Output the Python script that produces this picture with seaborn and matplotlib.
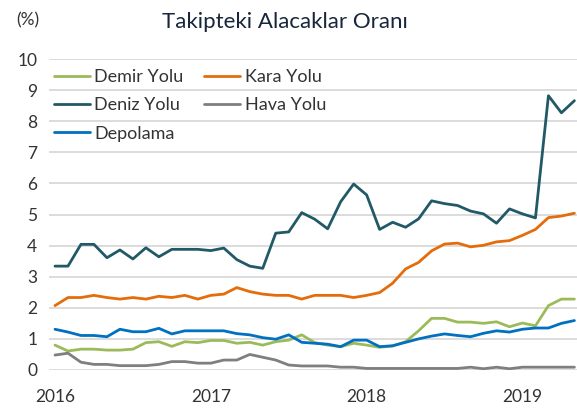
import numpy as np
import pandas as pd
import matplotlib
matplotlib.use("Agg")
import matplotlib.pyplot as plt
import seaborn as sns

# aylik veri, Ocak 2016 - Mayis 2019
months = pd.date_range("2016-01-01", periods=41, freq="MS")

demir_yolu = [0.80, 0.61, 0.67, 0.67, 0.64, 0.64, 0.67, 0.88, 0.91, 0.76, 0.91, 0.88,
              0.95, 0.95, 0.86, 0.89, 0.80, 0.91, 0.96, 1.13, 0.88, 0.80, 0.75, 0.86,
              0.80, 0.73, 0.77, 0.91, 1.26, 1.66, 1.66, 1.54, 1.54, 1.50, 1.55, 1.39,
              1.51, 1.42, 2.07, 2.28, 2.28]
kara_yolu = [2.07, 2.33, 2.33, 2.40, 2.33, 2.28, 2.33, 2.28, 2.37, 2.33, 2.40, 2.28,
             2.40, 2.44, 2.65, 2.52, 2.44, 2.40, 2.40, 2.28, 2.40, 2.40, 2.40, 2.33,
             2.40, 2.49, 2.79, 3.25, 3.46, 3.83, 4.05, 4.08, 3.96, 4.01, 4.12, 4.16,
             4.33, 4.52, 4.90, 4.95, 5.04]
deniz_yolu = [3.34, 3.34, 4.04, 4.04, 3.61, 3.86, 3.57, 3.93, 3.64, 3.88, 3.88, 3.88,
              3.84, 3.92, 3.55, 3.34, 3.27, 4.40, 4.44, 5.06, 4.85, 4.54, 5.41, 5.98,
              5.63, 4.52, 4.75, 4.59, 4.86, 5.44, 5.35, 5.29, 5.11, 5.02, 4.72, 5.18,
              5.02, 4.89, 8.82, 8.27, 8.66]
hava_yolu = [0.48, 0.54, 0.25, 0.18, 0.18, 0.14, 0.14, 0.14, 0.18, 0.27, 0.27, 0.22,
             0.22, 0.32, 0.32, 0.50, 0.41, 0.32, 0.16, 0.13, 0.13, 0.13, 0.09, 0.09,
             0.05, 0.05, 0.05, 0.05, 0.05, 0.05, 0.05, 0.05, 0.09, 0.04, 0.09, 0.04,
             0.09, 0.09, 0.09, 0.09, 0.09]
depolama = [1.31, 1.22, 1.11, 1.11, 1.07, 1.31, 1.23, 1.23, 1.34, 1.16, 1.26, 1.26,
            1.26, 1.26, 1.17, 1.13, 1.04, 0.99, 1.13, 0.89, 0.86, 0.83, 0.75, 0.96,
            0.96, 0.75, 0.78, 0.89, 1.00, 1.09, 1.16, 1.11, 1.07, 1.18, 1.26, 1.22,
            1.31, 1.35, 1.35, 1.50, 1.59]

series_names = ["Demir Yolu", "Kara Yolu", "Deniz Yolu", "Hava Yolu", "Depolama"]
colors = {"Demir Yolu": "#9BBB59", "Kara Yolu": "#E46C0A", "Deniz Yolu": "#215967",
          "Hava Yolu": "#7F7F7F", "Depolama": "#0070C0"}
year_ticks = ["2016", "2017", "2018", "2019"]

df = pd.DataFrame({"idx": np.arange(len(months)),
                   "Demir Yolu": demir_yolu, "Kara Yolu": kara_yolu,
                   "Deniz Yolu": deniz_yolu, "Hava Yolu": hava_yolu,
                   "Depolama": depolama})
long_df = df.melt(id_vars="idx", var_name="seri", value_name="oran")

sns.set_style("white")
plt.rcParams["font.family"] = ["Lato", "DejaVu Sans"]

fig = plt.figure(figsize=(5.77, 4.12), dpi=100)
ax = fig.add_axes([48.5 / 577, 1 - 370 / 412, 528.5 / 577, 311 / 412])

sns.lineplot(data=long_df, x="idx", y="oran", hue="seri", hue_order=series_names,
             palette=colors, linewidth=2, ax=ax, legend=False)

ax.set_ylim(0, 10)
ax.set_xlim(-0.5, 40.2)
ax.set_yticks(range(0, 11))
ax.set_xticks([0, 12, 24, 36])
ax.set_xticklabels(year_ticks)
ax.tick_params(axis="both", length=0, labelsize=12.5, labelcolor="#333333")
ax.tick_params(axis="x", pad=14)
ax.tick_params(axis="y", pad=8)
ax.yaxis.grid(True, color="#D9D9D9", linewidth=1.3)
ax.set_axisbelow(True)
for s in ax.spines.values():
    s.set_visible(False)
ax.set_xlabel("")
ax.set_ylabel("")

# legend: once sol sutun, sonra sag
order = ["Demir Yolu", "Deniz Yolu", "Depolama", "Kara Yolu", "Hava Yolu"]
handles = [plt.Line2D([], [], color=colors[n], linewidth=2) for n in order]
ax.legend(handles, order, ncol=2, loc="upper left", bbox_to_anchor=(-0.014, 1.008),
          frameon=False, fontsize=13, handlelength=2.0, handletextpad=0.25,
          columnspacing=1.15, labelspacing=0.68, labelcolor="#333333",
          borderaxespad=0.3)

fig.text(285 / 577, 1 - 22 / 412, "Takipteki Alacaklar Oranı", ha="center", va="center",
         fontsize=16, color="#17263A")
fig.text(28 / 577, 1 - 20 / 412, "(%)", ha="center", va="center", fontsize=12.5,
         color="#333333")

fig.savefig("out.png", dpi=100)
